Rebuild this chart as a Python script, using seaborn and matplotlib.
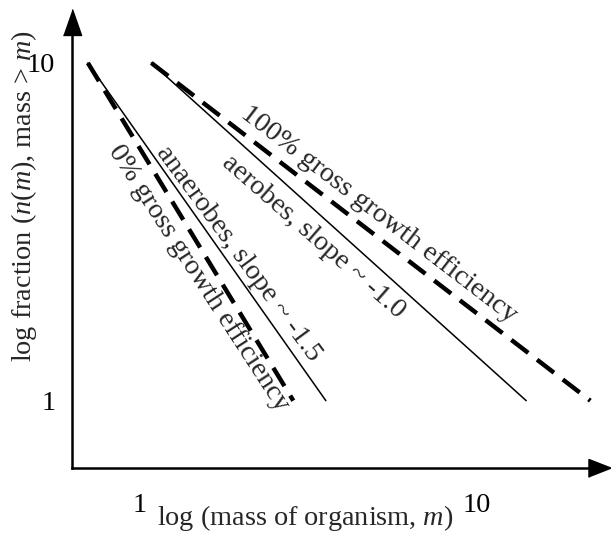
import numpy as np
import pandas as pd
import matplotlib
matplotlib.use("Agg")
import matplotlib.pyplot as plt
import seaborn as sns

# ---- data ----
anaerobe_x = [0.70, 3.56]
anaerobe_y = [10.0, 1.0]
zero_eff_x = [0.70, 2.85]
zero_eff_y = [10.0, 1.0]
aerobe_x = [1.08, 14.0]
aerobe_y = [10.0, 1.0]
full_eff_x = [1.08, 21.7]
full_eff_y = [10.0, 1.0]

tick_exponents = [k / 10 for k in range(11)]
tick_labels = {0: "1", 10: "10"}

labels = {
    "zero": "0% gross growth efficiency",
    "anaerobe": "anaerobes, slope ~ -1.5",
    "aerobe": "aerobes, slope ~ -1.0",
    "full": "100% gross growth efficiency",
}
label_pos = {
    "zero": (1.486, 2.31, -57.0),
    "anaerobe": (1.954, 2.72, -53.6),
    "aerobe": (3.28, 3.06, -41.2),
    "full": (5.12, 3.55, -37.4),
}

sns.set_style("white")
plt.rcParams["font.family"] = ["Liberation Serif", "DejaVu Serif"]
plt.rcParams["mathtext.fontset"] = "custom"
plt.rcParams["mathtext.rm"] = "Liberation Serif"
plt.rcParams["mathtext.it"] = "Liberation Serif:italic"

FS = 20.3

fig = plt.figure(figsize=(6.11, 5.36), dpi=100)
ax = fig.add_axes([72 / 611, (536 - 468) / 536, (599.5 - 72) / 611, (468 - 22) / 536])

def df(x, y):
    return pd.DataFrame({"x": x, "y": y})

sns.lineplot(data=df(anaerobe_x, anaerobe_y), x="x", y="y", ax=ax, color="black", lw=1.1)
sns.lineplot(data=df(aerobe_x, aerobe_y), x="x", y="y", ax=ax, color="black", lw=1.1)
sns.lineplot(data=df(zero_eff_x, zero_eff_y), x="x", y="y", ax=ax, color="black", lw=3.2,
             linestyle=(0, (4.8, 2.5)), solid_capstyle="butt", dash_capstyle="butt")
sns.lineplot(data=df(full_eff_x, full_eff_y), x="x", y="y", ax=ax, color="black", lw=3.2,
             linestyle=(0, (4.8, 2.5)), solid_capstyle="butt", dash_capstyle="butt")

ax.set_xscale("log")
ax.set_yscale("log")
ax.set_xlim(0.628, 23.1)
ax.set_ylim(0.632, 13.22)

ticks = [10 ** e for e in tick_exponents]
tl = [tick_labels.get(i, "") for i in range(len(ticks))]
ax.xaxis.set_major_locator(matplotlib.ticker.FixedLocator(ticks))
ax.yaxis.set_major_locator(matplotlib.ticker.FixedLocator(ticks))
ax.xaxis.set_minor_locator(matplotlib.ticker.NullLocator())
ax.yaxis.set_minor_locator(matplotlib.ticker.NullLocator())
ax.set_xticklabels(tl)
ax.set_yticklabels(tl)
ax.tick_params(axis="both", direction="out", length=5, width=1.6, labelsize=FS,
               colors="black")
ax.tick_params(axis="x", pad=13)
ax.tick_params(axis="y", pad=7)

for s in ["top", "right"]:
    ax.spines[s].set_visible(False)
for s in ["left", "bottom"]:
    ax.spines[s].set_linewidth(1.8)
    ax.spines[s].set_color("black")

# arrow heads
ax.plot([1], [0], marker=[(-0.5, -0.39), (-0.5, 0.39), (0.5, 0)], ms=16.6, color="black",
        transform=ax.transAxes, clip_on=False, ls="none")
ax.plot([0], [1], marker=[(-0.35, -0.5), (0.35, -0.5), (0, 0.5)], ms=18.7, color="black",
        transform=ax.transAxes, clip_on=False, ls="none")

ax.set_xlabel("log (mass of organism, $m$)", fontsize=FS)
ax.set_ylabel("log fraction ($n$($m$), mass > $m$)", fontsize=FS)
ax.xaxis.set_label_coords(0.442, -0.078)
ax.yaxis.set_label_coords(-0.062, 0.61)

for key, text in labels.items():
    x, y, rot = label_pos[key]
    ax.text(x, y, text, rotation=rot, rotation_mode="anchor", ha="center", va="center",
            fontsize=FS)

ax.set_facecolor("white")
fig.patch.set_facecolor("white")
fig.savefig("out.png", dpi=100)
